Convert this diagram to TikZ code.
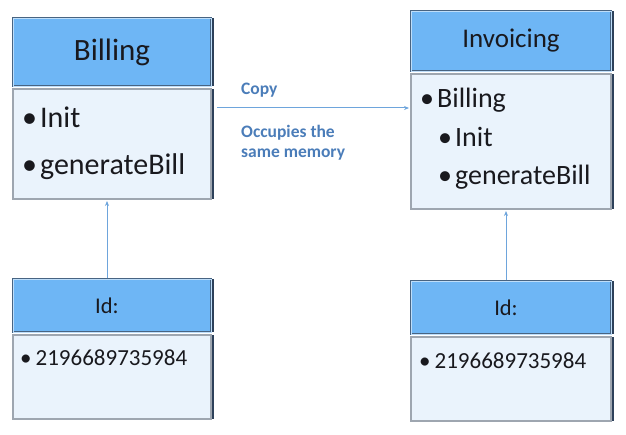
\documentclass[tikz,border=0pt]{standalone}
\usepackage{fontspec}
\setmainfont{Carlito}
\usetikzlibrary{arrows.meta,positioning,shadows}
\definecolor{headblue}{RGB}{110,182,245}
\definecolor{headline}{RGB}{72,100,130}
\definecolor{bodyblue}{RGB}{234,243,252}
\definecolor{bodyline}{RGB}{158,166,176}
\definecolor{edgedark}{RGB}{45,65,90}
\definecolor{linkblue}{RGB}{110,165,220}
\definecolor{labelblue}{RGB}{75,125,185}
\definecolor{inktext}{RGB}{25,25,30}

\begin{document}
\begin{tikzpicture}[x=1pt, y=-1pt,
	headbox/.style={rectangle, draw=headline, line width=1pt, double=headblue!45!white, double distance=0.8pt,
		fill=headblue, text=inktext,
		drop shadow={shadow xshift=3pt, shadow yshift=0pt, fill=edgedark, opacity=1}},
	bodybox/.style={rectangle, draw=bodyline, line width=2pt, fill=bodyblue,
		drop shadow={shadow xshift=3pt, shadow yshift=0pt, fill=edgedark, opacity=1}},
	listtext/.style={anchor=base west, align=left, inner sep=0pt, text=inktext},
	link/.style={draw=linkblue, line width=1pt, shorten >=1pt, -{Stealth[length=5pt,width=4pt]}},
	note/.style={anchor=base west, align=left, inner sep=0pt, text=labelblue,
		font=\bfseries\fontsize{17.5}{20}\selectfont}]
	\useasboundingbox (0,0) rectangle (626,435);
	% Billing class
	\node[headbox, minimum width=198pt, minimum height=68pt, font=\fontsize{31}{36}\selectfont] (billHead) at (112,52) {Billing};
	\node[bodybox, minimum width=198pt, minimum height=110pt] (billBody) at (112,144) {};
	% (multi-line: anchor sits on the last baseline)
	\node[listtext, font=\fontsize{30}{47}\selectfont] (billList) at (22,175) {\textbullet\hspace{3pt}Init\\\textbullet\hspace{3pt}generateBill};
	% Invoicing class
	\node[headbox, minimum width=200pt, minimum height=60pt, font=\fontsize{27}{34}\selectfont] (invHead) at (511,41) {Invoicing};
	\node[bodybox, minimum width=200pt, minimum height=135pt] (invBody) at (511,141.5) {};
	\node[listtext, font=\fontsize{28}{38.5}\selectfont] (invList) at (420,185) {\textbullet\hspace{3pt}Billing\\\hspace*{18pt}\textbullet\hspace{3pt}Init\\\hspace*{18pt}\textbullet\hspace{3pt}generateBill};
	% Id objects
	\node[headbox, minimum width=198pt, minimum height=53pt, font=\fontsize{22.5}{26}\selectfont] (idHeadL) at (112,305.5) {Id:\hspace*{10pt}};
	\node[bodybox, minimum width=198pt, minimum height=84pt] (idBodyL) at (112,377) {};
	\node[listtext, font=\fontsize{23}{28}\selectfont] (idListL) at (20,365) {\textbullet\hspace{4pt}2196689735984};
	\node[headbox, minimum width=200pt, minimum height=53pt, font=\fontsize{22.5}{26}\selectfont] (idHeadR) at (511,307.5) {Id:\hspace*{10pt}};
	\node[bodybox, minimum width=200pt, minimum height=84pt] (idBodyR) at (511,379) {};
	\node[listtext, font=\fontsize{23}{28}\selectfont] (idListR) at (419,368) {\textbullet\hspace{4pt}2196689735984};
	% connectors
	\draw[link] ([xshift=-5pt]idHeadL.north) -- ([xshift=-5pt]billBody.south);
	\draw[link] ([xshift=-5pt]idHeadR.north) -- ([xshift=-5pt]invBody.south);
	\coordinate (copyFrom) at (217,108);
	\draw[link] (copyFrom) -- (copyFrom -| invBody.west);
	\node[note] (copyLabel) at (241,95) {Copy};
	\node[note] (memLabel) at (241,158) {Occupies the\\same memory};
\end{tikzpicture}
\end{document}
